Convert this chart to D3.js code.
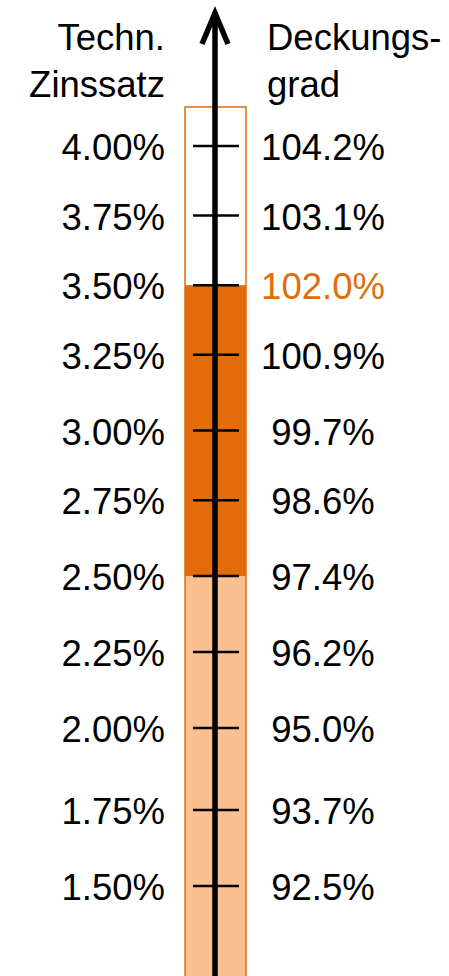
<!DOCTYPE html>
<html>
<head>
<meta charset="utf-8">
<script src="https://cdn.jsdelivr.net/npm/d3@7"></script>
<style>
  body { margin: 0; background: #fff; }
  text { font-family: "Liberation Sans", Arial, sans-serif; font-size: 36.5px; }
</style>
</head>
<body>
<div id="my_dataviz"></div>
<script>
// data
var zinssatz = ["4.00%", "3.75%", "3.50%", "3.25%", "3.00%", "2.75%", "2.50%", "2.25%", "2.00%", "1.75%", "1.50%"];
var deckungsgrad = [104.2, 103.1, 102.0, 100.9, 99.7, 98.6, 97.4, 96.2, 95.0, 93.7, 92.5];
var highlight = "102.0%";
// range of the dark band (Deckungsgrad)
var bandRange = [102.0, 97.4];
var leftTitle = ["Techn.", "Zinssatz"];
var rightTitle = ["Deckungs-", "grad"];

var width = 449, height = 976;
var dark = "#E36C0A", light = "#FAC090";

var svg = d3.select("#my_dataviz")
  .append("svg")
  .attr("width", width)
  .attr("height", height);

// y scale along Deckungsgrad
var y = d3.scaleLinear()
  .domain([92.5, 104.2])
  .range([886, 146]);

var rows = zinssatz.map(function (z, i) {
  return { z: z, d: deckungsgrad[i] };
});

// bar
var barX = 185, barW = 61, barTop = 107;
svg.append("rect")
  .attr("x", barX).attr("y", y(bandRange[1]))
  .attr("width", barW).attr("height", height - y(bandRange[1]) + 5)
  .attr("fill", light);
svg.append("rect")
  .attr("x", barX).attr("y", y(bandRange[0]))
  .attr("width", barW).attr("height", y(bandRange[1]) - y(bandRange[0]))
  .attr("fill", dark);
svg.append("rect")
  .attr("x", barX).attr("y", barTop)
  .attr("width", barW).attr("height", height - barTop + 10)
  .attr("fill", "none")
  .attr("stroke", dark)
  .attr("stroke-width", 1.5);

// ticks
var cx = 215;
svg.selectAll(".tick")
  .data(rows)
  .enter()
  .append("line")
  .attr("x1", 193).attr("x2", 239)
  .attr("y1", function (d) { return y(d.d); })
  .attr("y2", function (d) { return y(d.d); })
  .attr("stroke", "#000")
  .attr("stroke-width", 2.5);

// arrow
svg.append("line")
  .attr("x1", cx).attr("x2", cx)
  .attr("y1", height).attr("y2", 12)
  .attr("stroke", "#000")
  .attr("stroke-width", 5.5);
svg.append("path")
  .attr("d", "M" + (cx - 13) + ",44L" + cx + ",13L" + (cx + 13) + ",44")
  .attr("fill", "none")
  .attr("stroke", "#000")
  .attr("stroke-width", 5.5)
  .attr("stroke-linejoin", "miter");

// left labels
svg.selectAll(".lbl-left")
  .data(rows)
  .enter()
  .append("text")
  .attr("x", 165)
  .attr("y", function (d) { return y(d.d) + 14; })
  .attr("text-anchor", "end")
  .text(function (d) { return d.z; });

// right labels
svg.selectAll(".lbl-right")
  .data(rows)
  .enter()
  .append("text")
  .attr("x", 323)
  .attr("y", function (d) { return y(d.d) + 14; })
  .attr("text-anchor", "middle")
  .style("fill", function (d) { return d.d.toFixed(1) + "%" === highlight ? dark : "#000"; })
  .text(function (d) { return d.d.toFixed(1) + "%"; });

// titles
svg.selectAll(".title-left")
  .data(leftTitle)
  .enter()
  .append("text")
  .attr("x", 165)
  .attr("y", function (d, i) { return 50 + i * 47; })
  .attr("text-anchor", "end")
  .text(function (d) { return d; });

svg.selectAll(".title-right")
  .data(rightTitle)
  .enter()
  .append("text")
  .attr("x", 267)
  .attr("y", function (d, i) { return 50 + i * 47; })
  .attr("text-anchor", "start")
  .text(function (d) { return d; });
</script>
</body>
</html>
